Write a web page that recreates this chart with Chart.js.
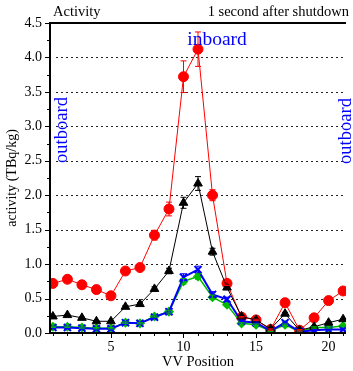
<!DOCTYPE html>
<html>
<head>
<meta charset="utf-8">
<script src="https://cdn.jsdelivr.net/npm/chart.js@4.4.1/dist/chart.umd.min.js"></script>
<style>
  html, body { margin: 0; padding: 0; background: #fff; }
  #wrap { width: 353px; height: 371px; position: relative; }
</style>
</head>
<body>
<div id="wrap"><canvas id="actChart" width="353" height="371"></canvas></div>
<script>
// VV positions
const positions = [1, 2, 3, 4, 5, 6, 7, 8, 9, 10, 11, 12, 13, 14, 15, 16, 17, 18, 19, 20, 21];

// activity per series (TBq/kg)
const redVals   = [0.72, 0.78, 0.70, 0.63, 0.54, 0.90, 0.95, 1.42, 1.80, 3.72, 4.12, 2.00, 0.72, 0.23, 0.19, 0.05, 0.44, 0.04, 0.22, 0.47, 0.61];
const blackVals = [0.24, 0.26, 0.22, 0.17, 0.17, 0.38, 0.42, 0.64, 0.90, 1.89, 2.17, 1.18, 0.66, 0.24, 0.19, 0.06, 0.28, 0.04, 0.09, 0.15, 0.20];
const greenVals = [0.09, 0.09, 0.08, 0.07, 0.07, 0.15, 0.14, 0.24, 0.31, 0.75, 0.82, 0.52, 0.41, 0.14, 0.12, 0.03, 0.12, 0.02, 0.08, 0.08, 0.10];
const blueVals  = [0.08, 0.08, 0.07, 0.06, 0.06, 0.15, 0.14, 0.23, 0.31, 0.81, 0.92, 0.56, 0.49, 0.17, 0.15, 0.03, 0.15, 0.02, 0.04, 0.05, 0.05];

// error bar half-widths
const redErr   = [0.02, 0.02, 0.02, 0.02, 0.02, 0.03, 0.03, 0.07, 0.10, 0.23, 0.25, 0.08, 0.03, 0.01, 0.01, 0.01, 0.02, 0.01, 0.01, 0.02, 0.02];
const blackErr = [0.01, 0.01, 0.01, 0.01, 0.01, 0.02, 0.02, 0.03, 0.04, 0.08, 0.10, 0.05, 0.03, 0.01, 0.01, 0.01, 0.02, 0.01, 0.01, 0.01, 0.01];
const greenErr = [0.01, 0.01, 0.01, 0.01, 0.01, 0.01, 0.01, 0.01, 0.02, 0.04, 0.04, 0.03, 0.02, 0.01, 0.01, 0.01, 0.01, 0.01, 0.01, 0.01, 0.01];
const blueErr  = [0.01, 0.01, 0.01, 0.01, 0.01, 0.01, 0.01, 0.02, 0.02, 0.05, 0.05, 0.04, 0.03, 0.01, 0.01, 0.01, 0.01, 0.01, 0.01, 0.01, 0.01];

const yTicks = [0, 0.5, 1, 1.5, 2, 2.5, 3, 3.5, 4, 4.5];
const xTicks = [5, 10, 15, 20];

const FONT = "'Liberation Serif', 'DejaVu Serif', serif";

function toPoints(vals) {
  return positions.map((p, i) => ({ x: p, y: vals[i] }));
}

// dotted grid, error bars, ticks, frame and text labels
const decorPlugin = {
  id: 'decor',
  beforeDatasetsDraw(chart) {
    const ctx = chart.ctx;
    const a = chart.chartArea;
    const ys = chart.scales.y;
    ctx.save();
    ctx.strokeStyle = '#222';
    ctx.lineWidth = 1;
    ctx.setLineDash([2, 3]);
    ctx.beginPath();
    yTicks.forEach((v) => {
      if (v === 0 || v === 4.5) return;
      const py = Math.round(ys.getPixelForValue(v)) + 0.5;
      ctx.moveTo(a.left + 6, py); ctx.lineTo(a.right, py);
    });
    ctx.stroke();
    ctx.restore();
  },
  afterDatasetsDraw(chart) {
    const ctx = chart.ctx;
    const xs = chart.scales.x, ys = chart.scales.y;
    chart.data.datasets.forEach((ds) => {
      if (!ds.errs) return;
      ctx.save();
      ctx.strokeStyle = ds.borderColor;
      ctx.lineWidth = 1;
      ds.data.forEach((pt, i) => {
        const e = ds.errs[i];
        const px = xs.getPixelForValue(pt.x);
        const top = ys.getPixelForValue(pt.y + e);
        const bot = ys.getPixelForValue(pt.y - e);
        ctx.beginPath();
        ctx.moveTo(px, top); ctx.lineTo(px, bot);
        ctx.moveTo(px - 3, top); ctx.lineTo(px + 3, top);
        ctx.moveTo(px - 3, bot); ctx.lineTo(px + 3, bot);
        ctx.stroke();
      });
      ctx.restore();
    });
  },
  afterDraw(chart) {
    const ctx = chart.ctx;
    const a = chart.chartArea;
    const xs = chart.scales.x, ys = chart.scales.y;
    ctx.save();
    // frame
    ctx.strokeStyle = '#000';
    ctx.lineWidth = 2;
    ctx.beginPath();
    ctx.moveTo(a.left - 1, a.top); ctx.lineTo(a.right, a.top);
    ctx.moveTo(a.left, a.top); ctx.lineTo(a.left, a.bottom);
    ctx.moveTo(a.left - 1, a.bottom); ctx.lineTo(a.right, a.bottom);
    ctx.stroke();
    // ticks, pointing outward
    ctx.lineWidth = 1;
    ctx.beginPath();
    for (let v = 0; v <= 4.5001; v += 0.25) {
      const py = Math.round(ys.getPixelForValue(v)) + 0.5;
      const len = Math.abs(v * 2 - Math.round(v * 2)) < 0.01 ? 5 : 3;
      ctx.moveTo(a.left - len, py); ctx.lineTo(a.left, py);
    }
    positions.forEach((p) => {
      const px = Math.round(xs.getPixelForValue(p)) + 0.5;
      const len = p % 5 === 0 ? 5 : 3;
      ctx.moveTo(px, a.bottom); ctx.lineTo(px, a.bottom + len);
    });
    ctx.stroke();
    // header texts
    ctx.fillStyle = '#000';
    ctx.font = '14.5px ' + FONT;
    ctx.textBaseline = 'alphabetic';
    ctx.textAlign = 'left';
    ctx.fillText('Activity', 53, 16);
    ctx.textAlign = 'right';
    ctx.fillText('1 second after shutdown', 349, 16);
    // annotations
    ctx.fillStyle = '#0000ff';
    ctx.font = '19.5px ' + FONT;
    ctx.textAlign = 'center';
    ctx.fillText('inboard', 217, 45);
    ctx.font = '18.5px ' + FONT;
    ctx.save();
    ctx.translate(67, 130);
    ctx.rotate(-Math.PI / 2);
    ctx.fillText('outboard', 0, 0);
    ctx.restore();
    ctx.save();
    ctx.translate(351, 131);
    ctx.rotate(-Math.PI / 2);
    ctx.fillText('outboard', 0, 0);
    ctx.restore();
    ctx.restore();
  }
};

Chart.defaults.font.family = FONT;
Chart.defaults.color = '#000';

new Chart(document.getElementById('actChart'), {
  type: 'line',
  data: {
    datasets: [
      {
        label: 'black', data: toPoints(blackVals), errs: blackErr, order: 0,
        borderColor: '#000', backgroundColor: '#000', borderWidth: 1,
        pointStyle: 'triangle', pointRadius: 5
      },
      {
        label: 'blue', data: toPoints(blueVals), errs: blueErr, order: 1,
        borderColor: '#0000ff', backgroundColor: '#0000ff', borderWidth: 2,
        pointStyle: 'crossRot', pointRadius: 5, pointBorderWidth: 2
      },
      {
        label: 'green', data: toPoints(greenVals), errs: greenErr, order: 2,
        borderColor: '#00bb00', backgroundColor: '#00bb00', borderWidth: 1.5,
        pointStyle: 'rectRot', pointRadius: 4
      },
      {
        label: 'red', data: toPoints(redVals), errs: redErr, order: 3,
        borderColor: '#ff0000', backgroundColor: '#ff0000', borderWidth: 1,
        pointStyle: 'circle', pointRadius: 5
      }
    ]
  },
  options: {
    responsive: false,
    animation: false,
    layout: { padding: { left: 0, right: 1, top: 23, bottom: 0 } },
    plugins: { legend: { display: false }, tooltip: { enabled: false } },
    scales: {
      x: {
        type: 'linear', min: 0.8, max: 21.2,
        afterBuildTicks: (s) => { s.ticks = xTicks.map((v) => ({ value: v })); },
        afterFit: (s) => { s.height = 38; },
        grid: { display: false, drawTicks: false },
        border: { display: false },
        ticks: { font: { size: 14 }, padding: 6, maxRotation: 0 },
        title: { display: true, text: 'VV Position', font: { size: 14.5 }, padding: { top: 0, bottom: 0 } }
      },
      y: {
        min: 0, max: 4.5,
        afterBuildTicks: (s) => { s.ticks = yTicks.map((v) => ({ value: v })); },
        afterFit: (s) => { s.width = 50; },
        grid: { display: false, drawTicks: false },
        border: { display: false },
        ticks: { font: { size: 14 }, padding: 8, callback: (v) => v.toFixed(1) },
        title: { display: true, text: 'activity (TBq/kg)', font: { size: 14 }, padding: { top: 4, bottom: 0 } }
      }
    }
  },
  plugins: [decorPlugin]
});
</script>
</body>
</html>
